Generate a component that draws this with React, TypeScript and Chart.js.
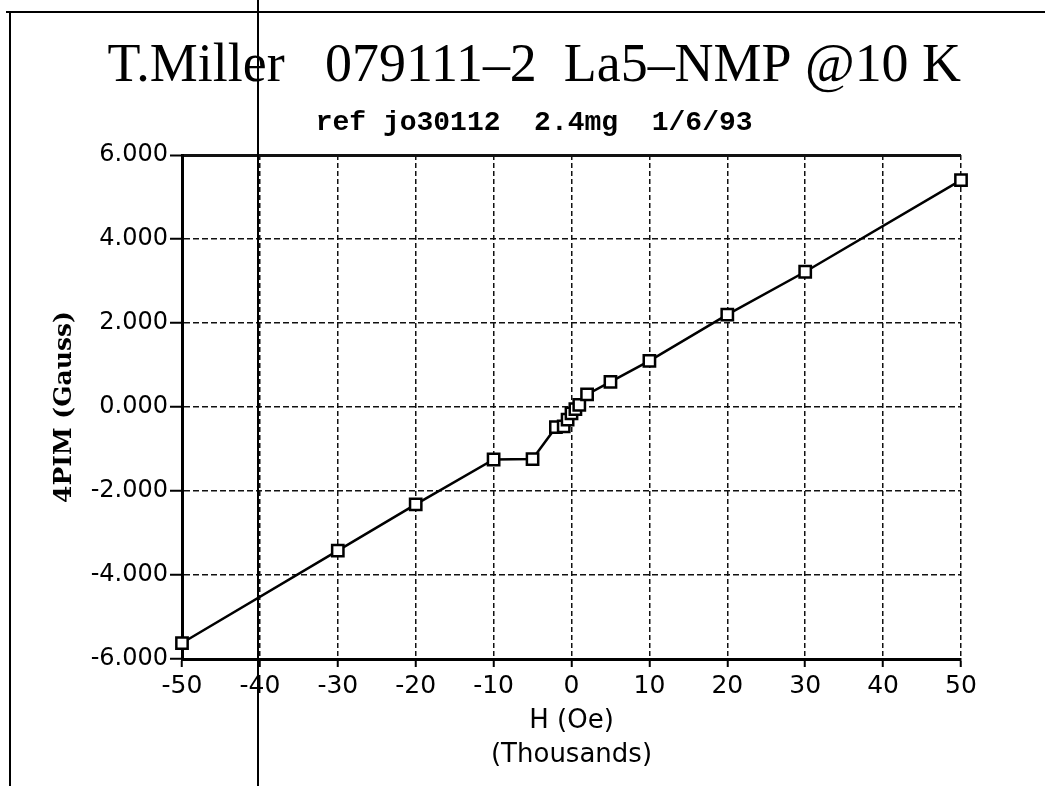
import React, { useEffect, useRef } from "react";
import { Chart, registerables } from "chart.js";

Chart.register(...registerables);

// ---- data ----
const fieldValues = [-50, -30, -20, -10, -5, -2, -1, -0.5, 0, 0.5, 1, 2, 5, 10, 20, 30, 50];
const magnetization = [-5.62, -3.42, -2.32, -1.25, -1.24, -0.48, -0.46, -0.3, -0.15, -0.05, 0.05, 0.3, 0.6, 1.1, 2.2, 3.22, 5.4];
const xTickValues = [-50, -40, -30, -20, -10, 0, 10, 20, 30, 40, 50];
const yTickValues = [-6, -4, -2, 0, 2, 4, 6];

const titleText = "     T.Miller   079111\u20132  La5\u2013NMP @10 K";
const subtitleText = "    ref jo30112  2.4mg  1/6/93";
const yTitle = "4PIM (Gauss)";
const xTitle = ["H (Oe)", "(Thousands)"];

export default function App() {
  const ref = useRef<HTMLCanvasElement | null>(null);

  useEffect(() => {
    if (!ref.current) return;
    Chart.defaults.font.family = "'DejaVu Sans'";
    Chart.defaults.color = "#000";
    const points = fieldValues.map((x, i) => ({ x, y: magnetization[i] }));
    const chart = new Chart(ref.current, {
      type: "scatter",
      data: {
        datasets: [
          {
            data: points,
            showLine: true,
            clip: false,
            borderColor: "#000",
            borderWidth: 2.5,
            tension: 0,
            pointStyle: "rect",
            pointRadius: 8,
            pointBackgroundColor: "#fff",
            pointBorderColor: "#000",
            pointBorderWidth: 2.5,
          },
        ],
      },
      options: {
        animation: false,
        responsive: false,
        layout: { padding: { left: 40, right: 84, top: 0, bottom: 0 } },
        plugins: {
          legend: { display: false },
          tooltip: { enabled: false },
          title: {
            display: true,
            text: titleText,
            color: "#000",
            font: { family: "'Liberation Serif'", size: 54, weight: "normal", lineHeight: 1 },
            padding: { top: 40, bottom: 0 },
          },
          subtitle: {
            display: true,
            text: subtitleText,
            color: "#000",
            font: { family: "'Liberation Mono'", size: 28, weight: "bold", lineHeight: 1 },
            padding: { top: 15, bottom: 18 },
          },
        },
        scales: {
          x: {
            type: "linear",
            min: -50,
            max: 50,
            afterBuildTicks: (s: any) => {
              s.ticks = xTickValues.map((v) => ({ value: v }));
            },
            afterFit: (s: any) => {
              s.height = 127;
            },
            ticks: {
              color: "#000",
              font: { family: "'DejaVu Sans'", size: 25 },
              padding: 4,
              maxRotation: 0,
              autoSkip: false,
              callback: (v: any) => String(v),
            },
            grid: {
              color: "#111",
              lineWidth: 1.5,
              tickLength: 8,
              tickColor: "#000",
              tickWidth: 2,
              tickBorderDash: [],
            },
            border: { display: true, color: "#000", width: 3, dash: [5, 3] },
            title: {
              display: true,
              text: xTitle,
              color: "#000",
              font: { family: "'DejaVu Sans'", size: 26, lineHeight: 1.31 },
              padding: { top: 0, bottom: 14 },
            },
          },
          y: {
            type: "linear",
            min: -6,
            max: 6,
            afterBuildTicks: (s: any) => {
              s.ticks = yTickValues.map((v) => ({ value: v }));
            },
            afterFit: (s: any) => {
              s.width = 142;
            },
            ticks: {
              color: "#000",
              font: { family: "'DejaVu Sans'", size: 24 },
              padding: 2,
              autoSkip: false,
              callback: (v: any) => Number(v).toFixed(3),
            },
            grid: {
              color: "#111",
              lineWidth: (c: any) => (c.tick && c.tick.value === 6 ? 3 : 1.5),
              tickLength: 12,
              tickColor: "#000",
              tickWidth: 2,
              tickBorderDash: [],
            },
            border: {
              display: true,
              color: "#000",
              width: 3,
              dash: (c: any) => (c.tick && c.tick.value === 6 ? [] : [6, 3]),
            },
            title: {
              display: true,
              text: yTitle,
              color: "#000",
              font: { family: "'DejaVu Serif'", size: 25, weight: "bold", lineHeight: 1.2 },
              padding: { top: 9, bottom: 0 },
            },
          },
        },
      },
    });
    return () => chart.destroy();
  }, []);

  return (
    <div style={{ position: "absolute", left: 0, top: 0, width: 1045, height: 786, background: "#fff", overflow: "hidden" }}>
      <canvas ref={ref} width={1045} height={786} style={{ position: "absolute", left: 0, top: 0 }} />
      <div style={{ position: "absolute", left: 6, top: 11, width: 1039, height: 2, background: "#000", pointerEvents: "none" }} />
      <div style={{ position: "absolute", left: 9, top: 11, width: 2, height: 775, background: "#000", pointerEvents: "none" }} />
      <div style={{ position: "absolute", left: 257, top: 0, width: 1.5, height: 786, background: "#000", pointerEvents: "none" }} />
    </div>
  );
}
